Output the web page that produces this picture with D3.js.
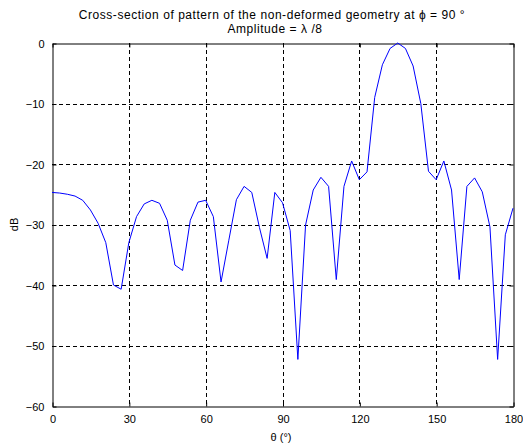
<!DOCTYPE html>
<html>
<head>
<meta charset="utf-8">
<script src="https://cdn.jsdelivr.net/npm/d3@7.9.0/dist/d3.min.js"></script>
<style>
  body { margin: 0; background: #fff; }
  svg { display: block; font-family: "Liberation Sans", Arial, sans-serif; }
</style>
</head>
<body>
<svg width="523" height="447"></svg>
<script>
// sampled angles (deg) and pattern level (dB)
const theta = [0, 3, 6, 9, 12, 15, 18, 21, 24, 27, 30, 33, 36, 39, 42, 45, 48, 51, 54, 57,
  60, 63, 66, 69, 72, 75, 78, 81, 84, 87, 90, 93, 96, 99, 102, 105, 108, 111, 114, 117,
  120, 123, 126, 129, 132, 135, 138, 141, 144, 147, 150, 153, 156, 159, 162, 165, 168, 171, 174, 177, 180];
const dB = [-24.7, -24.8, -25.0, -25.3, -26.0, -27.6, -29.8, -33.0, -40.0, -40.7,
  -33.0, -28.7, -26.6, -26.0, -26.5, -29.3, -36.7, -37.6, -29.3, -26.3,
  -26.0, -28.7, -39.5, -32.7, -25.9, -23.7, -24.7, -30.5, -35.6, -24.7,
  -26.4, -31.0, -52.3, -30.1, -24.3, -22.2, -23.7, -39.1, -23.7, -19.5,
  -22.6, -21.3, -9.0, -3.6, -0.9, 0, -0.9, -3.8, -10.0, -21.2,
  -22.6, -19.5, -24.3, -39.1, -23.7, -22.3, -24.6, -30.4, -52.3, -31.7, -27.3];
const xTicks = [0, 30, 60, 90, 120, 150, 180];
const yTicks = [0, -10, -20, -30, -40, -50, -60];

const plotL = 52, plotR = 513, plotT = 43, plotB = 406;
const svg = d3.select('svg');

const x = d3.scaleLinear().domain([0, 180]).range([plotL, plotR]);
const y = d3.scaleLinear().domain([-60, 0]).range([plotB, plotT]);

// dashed grid
svg.append('g').selectAll('line').data(xTicks.slice(1, -1)).join('line')
  .attr('x1', d => Math.round(x(d)) + 0.5).attr('x2', d => Math.round(x(d)) + 0.5)
  .attr('y1', plotT).attr('y2', plotB)
  .attr('stroke', '#000').attr('stroke-dasharray', '4,3');
svg.append('g').selectAll('line').data(yTicks.slice(1, -1)).join('line')
  .attr('y1', d => Math.round(y(d)) + 0.5).attr('y2', d => Math.round(y(d)) + 0.5)
  .attr('x1', plotL).attr('x2', plotR)
  .attr('stroke', '#000').attr('stroke-dasharray', '4,3');

// axes, ticks pointing inward
svg.append('g').attr('transform', `translate(0.5,${plotB + 0.5})`)
  .call(d3.axisBottom(x).tickValues(xTicks).tickSizeInner(-4).tickSizeOuter(0).tickPadding(9));
svg.append('g').attr('transform', `translate(${plotL + 0.5},0.5)`)
  .call(d3.axisLeft(y).tickValues(yTicks).tickSizeInner(-4).tickSizeOuter(0).tickPadding(8));
svg.append('g').attr('transform', `translate(0.5,${plotT + 0.5})`)
  .call(d3.axisTop(x).tickValues(xTicks).tickSizeInner(-4).tickSizeOuter(0).tickFormat(''));
svg.append('g').attr('transform', `translate(${plotR + 0.5},0.5)`)
  .call(d3.axisRight(y).tickValues(yTicks).tickSizeInner(-4).tickSizeOuter(0).tickFormat(''));

svg.selectAll('.tick text').attr('font-size', 11).attr('fill', '#000')
  .attr('font-family', '"Liberation Sans", Arial, sans-serif');
svg.selectAll('.domain').attr('stroke', '#000');

// curve
const line = d3.line().x((d, i) => x(theta[i])).y(d => y(d));
svg.append('path').datum(dB)
  .attr('d', line)
  .attr('fill', 'none')
  .attr('stroke', '#0000ff')
  .attr('stroke-width', 1);

// labels
svg.append('text').attr('x', 272).attr('y', 19).attr('text-anchor', 'middle')
  .attr('font-size', 12).attr('letter-spacing', 0.55)
  .text('Cross-section of pattern of the non-deformed geometry at ϕ = 90 °');
svg.append('text').attr('x', 275).attr('y', 33).attr('text-anchor', 'middle')
  .attr('font-size', 12).attr('letter-spacing', 0.55)
  .text('Amplitude = λ /8');
svg.append('text').attr('x', 281).attr('y', 441).attr('text-anchor', 'middle')
  .attr('font-size', 11).text('θ (°)');
svg.append('text').attr('transform', `translate(18,${(plotT + plotB) / 2}) rotate(-90)`)
  .attr('text-anchor', 'middle').attr('font-size', 11).text('dB');
</script>
</body>
</html>
